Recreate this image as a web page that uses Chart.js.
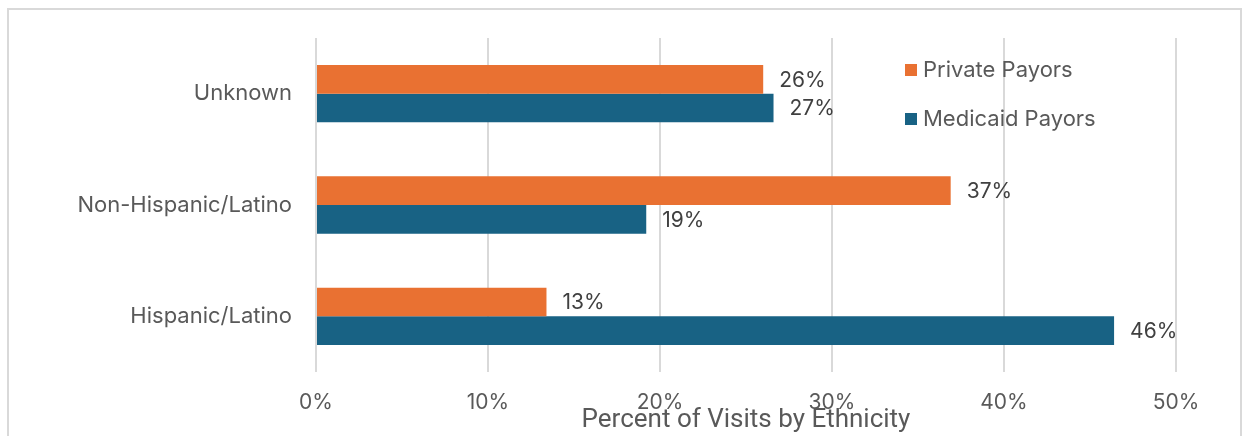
<!DOCTYPE html>
<html><head><meta charset="utf-8">
<script src="https://cdn.jsdelivr.net/npm/chart.js@4/dist/chart.umd.min.js"></script>
<style>
html,body{margin:0;padding:0;background:#fff;}
#wrap{position:relative;width:1247px;height:436px;overflow:hidden;}
#box{position:absolute;left:7px;top:8px;width:1235px;height:440px;border:2px solid #D9D9D9;box-sizing:border-box;}
canvas{position:absolute;left:0;top:0;}
</style></head>
<body><div id="wrap"><div id="box"></div><canvas id="c" width="1247" height="436"></canvas></div>
<script>
const categories = ['Unknown', 'Non-Hispanic/Latino', 'Hispanic/Latino'];
const privatePayors = [26.0, 36.9, 13.4];
const medicaidPayors = [26.6, 19.2, 46.4];
const seriesNames = ['Private Payors', 'Medicaid Payors'];
const xTicks = [0, 10, 20, 30, 40, 50];
const axisTitle = 'Percent of Visits by Ethnicity';

const FONT = 'Inter, "Open Sans", sans-serif';
const TITLE_FONT = 'Roboto, sans-serif';
const colors = ['#E97132', '#186284'];

const labelPlugin = {
  id: 'valueLabels',
  afterDatasetsDraw(chart) {
    const ctx = chart.ctx;
    ctx.save();
    ctx.font = '21px ' + FONT;
    ctx.fillStyle = '#404040';
    ctx.textBaseline = 'middle';
    ctx.textAlign = 'left';
    chart.data.datasets.forEach((ds, i) => {
      chart.getDatasetMeta(i).data.forEach((bar, j) => {
        ctx.fillText(Math.round(ds.data[j]) + '%', bar.x + 16, bar.y + 1);
      });
    });
    ctx.restore();
  }
};

const legendPlugin = {
  id: 'customLegend',
  afterDraw(chart) {
    const ctx = chart.ctx;
    ctx.save();
    ctx.font = '22px ' + FONT;
    ctx.textBaseline = 'middle';
    ctx.textAlign = 'left';
    chart.data.datasets.forEach((ds, i) => {
      const y = 70 + i * 49;
      ctx.fillStyle = ds.backgroundColor;
      ctx.fillRect(905, y - 6, 12, 12);
      ctx.fillStyle = '#595959';
      ctx.fillText(ds.label, 923, y);
    });
    ctx.restore();
  }
};

new Chart(document.getElementById('c'), {
  type: 'bar',
  data: {
    labels: categories,
    datasets: [
      { label: seriesNames[0], data: privatePayors, backgroundColor: colors[0] },
      { label: seriesNames[1], data: medicaidPayors, backgroundColor: colors[1] }
    ]
  },
  options: {
    indexAxis: 'y',
    responsive: false,
    animation: false,
    devicePixelRatio: 1,
    layout: { padding: { top: 38, right: 71, left: 0, bottom: 0 } },
    datasets: { bar: { barPercentage: 1.0, categoryPercentage: 0.515 } },
    plugins: { legend: { display: false }, tooltip: { enabled: false } },
    scales: {
      x: {
        min: 0, max: 50,
        afterBuildTicks(scale) { scale.ticks = xTicks.map(v => ({ value: v })); },
        afterFit(scale) { scale.height = 64; },
        grid: { color: '#D9D9D9', lineWidth: 2, drawTicks: false },
        border: { display: false },
        ticks: { padding: 18, color: '#595959', font: { family: FONT, size: 21 }, callback: v => v + '%' },
        title: { display: true, text: axisTitle, color: '#595959', font: { family: TITLE_FONT, size: 26 }, padding: { top: 0, bottom: 0 } }
      },
      y: {
        afterFit(scale) { scale.width = 316; },
        grid: { display: false, drawTicks: false },
        border: { display: false },
        ticks: { padding: 24, color: '#595959', font: { family: FONT, size: 22 } }
      }
    }
  },
  plugins: [labelPlugin, legendPlugin]
});
</script></body></html>
